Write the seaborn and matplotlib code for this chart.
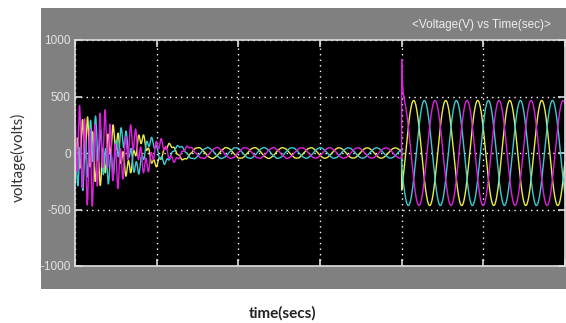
import numpy as np
import pandas as pd
import seaborn as sns
import matplotlib.pyplot as plt
from matplotlib.patches import Rectangle
from matplotlib import font_manager

# values
phase_names = ['yellow', 'cyan', 'magenta']
phase_colors = ['#ecec48', '#38ccd4', '#e020e0']
phase_shift_deg = [-45, -165, 75]

# transient envelope before the switch (time in s, volts)
env_t = [0.0, 0.01, 0.02, 0.03, 0.05, 0.07, 0.09, 0.12, 0.15, 0.40]
env_v = [330, 390, 400, 320, 230, 160, 110, 65, 48, 45]
# extra weight of the ripple on each phase in the first 0.1 s
ripple_gain = [0.55, 0.6, 1.0]
ripple_hz = 160

pre_hz = 29
pre_amp = 45
switch_t = 0.40
post_hz = 25.5
post_amp = 465
spike_v = 380  # magenta spike at the switching instant

yticks = [-1000, -500, 0, 500, 1000]
xgrid = [0.0, 0.1, 0.2, 0.3, 0.4, 0.5, 0.6]

# build the waveforms
t = np.arange(0, 0.6, 0.0001)
env = np.interp(t, env_t, env_v)
frames = []
for name, sh, g in zip(phase_names, phase_shift_deg, ripple_gain):
    ph = np.deg2rad(sh)
    base = np.minimum(env, 140) * np.sin(2 * np.pi * pre_hz * t + ph)
    rip = g * np.maximum(env - pre_amp, 0) * np.sin(2 * np.pi * ripple_hz * t + ph * 1.7)
    v = np.where(t < switch_t, base + rip,
                 post_amp * np.sin(2 * np.pi * post_hz * (t - switch_t) + ph))
    if name == 'magenta':
        v = v + np.where(t >= switch_t, spike_v * np.exp(-(t - switch_t) / 0.0012), 0)
    frames.append(pd.DataFrame({'t': t, 'v': v, 'phase': name}))
df = pd.concat(frames)

names = {f.name for f in font_manager.fontManager.ttflist}
narrow = 'Liberation Sans Narrow' if 'Liberation Sans Narrow' in names else 'Liberation Sans'

sns.set_style('dark')
plt.rcParams['font.family'] = ['DejaVu Sans']

fig = plt.figure(figsize=(5.66, 3.23), dpi=100)
fig.patch.set_facecolor('white')
fig.patches.append(Rectangle((41 / 566, 34 / 323), 1 - 41 / 566, 281 / 323,
                             transform=fig.transFigure, facecolor='#808080',
                             edgecolor='none', zorder=-1))
ax = fig.add_axes([75 / 566, 57 / 323, 490 / 566, 226 / 323])
ax.set_zorder(1)
ax.set_facecolor('black')

sns.lineplot(data=df, x='t', y='v', hue='phase', hue_order=phase_names,
             palette=dict(zip(phase_names, phase_colors)), estimator=None,
             linewidth=1.0, legend=False, ax=ax)

ax.set_xlim(0, 0.6)
ax.set_ylim(-1000, 1000)
ax.set_xticks(xgrid)
ax.set_yticks(yticks)
ax.set_xticklabels([])
small = narrow == 'Liberation Sans'
ax.set_yticklabels([str(y) for y in yticks], family=[narrow, 'DejaVu Sans'],
                   fontsize=8.5 if small else 10, color='#e4e4e4')
ax.tick_params(direction='in', length=5, width=1.2, color='#dddddd',
               top=True, right=True, bottom=True, left=True)
ax.tick_params(axis='y', pad=3)
ax.grid(True, color='white', linestyle=(0, (1, 3)), linewidth=1.0)
for s in ax.spines.values():
    s.set_color('#dddddd')
    s.set_linewidth(1.2)
ax.set_xlabel('')
ax.set_ylabel('')

fig.text(481 / 566, 1 - 25 / 323, '<Voltage(V) vs Time(sec)>', ha='center', va='center',
         color='#eeeeee', fontsize=8.5 if small else 10,
         family=[narrow, 'DejaVu Sans'])
fig.text(18 / 566, 1 - 157 / 323, 'voltage(volts)', rotation=90, ha='center', va='center',
         color='#333333', fontsize=11, family=['Lato', 'DejaVu Sans'])
fig.text(283 / 566, 1 - 313 / 323, 'time(secs)', ha='center', va='center',
         color='#222222', fontsize=11, fontweight='bold', family=['Lato', 'DejaVu Sans'])

fig.savefig('out.png', dpi=100)
